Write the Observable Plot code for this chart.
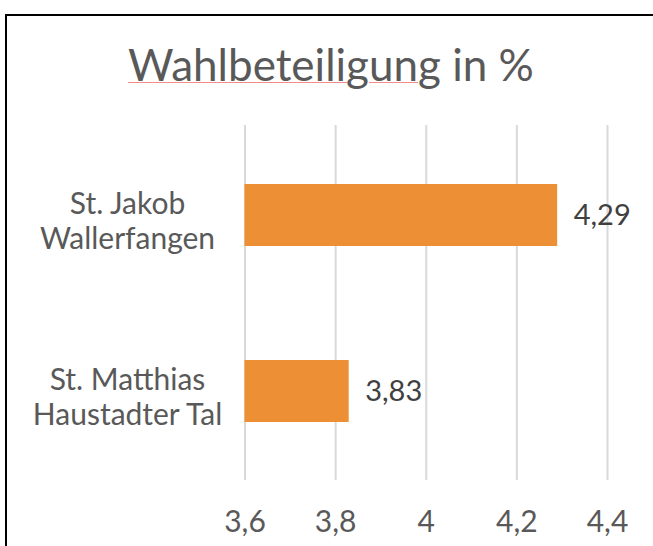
<!DOCTYPE html>
<html>
<head>
<meta charset="utf-8">
<script src="https://cdn.jsdelivr.net/npm/d3@7"></script>
<script src="https://cdn.jsdelivr.net/npm/@observablehq/plot@0.6"></script>
<style>
  html, body { margin: 0; padding: 0; background: #fff; overflow: hidden; }
  #wrap { position: relative; width: 653px; height: 546px; overflow: hidden; }
  #border { position: absolute; left: 5px; top: 14px; width: 700px; height: 600px;
            border-top: 2px solid #000; border-left: 2px solid #000; box-sizing: border-box; }
  #title { position: absolute; left: 0; top: 42px; width: 662px; text-align: center;
           font-family: Lato, sans-serif; font-size: 44px; line-height: 44px; color: #595959; }
  #title .sp { text-decoration: underline; text-decoration-color: #f28b8b; text-decoration-thickness: 1px; text-underline-offset: 1px; }
  #chart { position: absolute; left: 0; top: 110px; }
</style>
</head>
<body>
<div id="wrap">
  <div id="border"></div>
  <div id="title"><span class="sp">Wahlbeteiligung</span> in %</div>
  <div id="chart"></div>
</div>
<script>
const categories = ["St. Jakob\nWallerfangen", "St. Matthias\nHaustadter Tal"];
const values = [4.29, 3.83];
const xTicks = [3.6, 3.8, 4.0, 4.2, 4.4];

const fmt = d => String(d).replace(".", ",");
const data = categories.map((c, i) => ({name: c, value: values[i]}));

const chart = Plot.plot({
  width: 653,
  height: 436,
  marginTop: 15,
  marginBottom: 66,
  marginLeft: 244.5,
  marginRight: 46,
  style: {fontFamily: "Lato, sans-serif", background: "transparent", overflow: "visible"},
  x: {domain: [xTicks[0], xTicks[xTicks.length - 1]], ticks: xTicks, tickFormat: fmt},
  y: {domain: categories, paddingInner: 0.648, paddingOuter: 0.332, axis: null},
  marks: [
    Plot.gridX(xTicks, {stroke: "#d9d9d9", strokeOpacity: 1, strokeWidth: 2}),
    Plot.axisX(xTicks, {tickSize: 0, tickPadding: 30, fontSize: 30, fill: "#595959", tickFormat: fmt, label: null}),
    Plot.barX(data, {x1: () => xTicks[0], x2: "value", y: "name", fill: "#ED9035"}),
    Plot.text(data, {x: "value", y: "name", text: d => fmt(d.value), textAnchor: "start", dx: 16, fontSize: 29, fill: "#404040"}),
    Plot.text(data, {y: "name", text: "name", frameAnchor: "left", dx: -117.5, dy: 5, textAnchor: "middle", fontSize: 30, lineHeight: 1.17, fill: "#595959"})
  ]
});
document.getElementById("chart").appendChild(chart);
</script>
</body>
</html>
